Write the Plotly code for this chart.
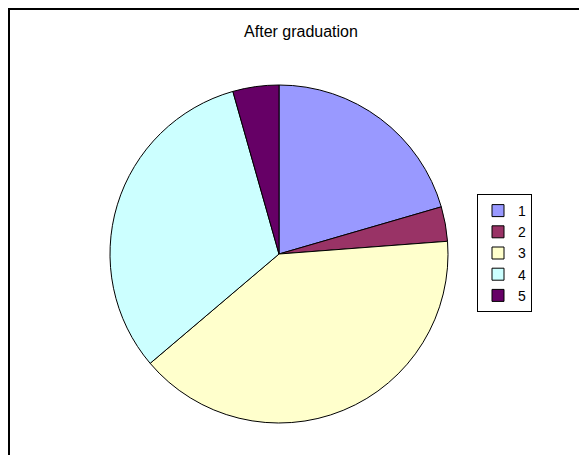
import plotly.graph_objects as go

labels = ["1", "2", "3", "4", "5"]
values = [20.5, 3.3, 40.0, 31.8, 4.4]
colors = ["#9999FF", "#993366", "#FFFFCC", "#CCFFFF", "#660066"]

OFF = 8  # page body margin offset
W, H = 587 + OFF, 455 + OFF  # figure size in px (extends past the window edge)
cx, cy, r = 279 - OFF, 254 - OFF, 169

fig = go.Figure(go.Pie(
    labels=labels, values=values, sort=False, direction="clockwise", rotation=0,
    marker=dict(colors=colors, line=dict(color="black", width=1)),
    textinfo="none", hoverinfo="label+percent",
    domain=dict(x=[(cx - r) / W, (cx + r) / W], y=[(H - cy - r) / H, (H - cy + r) / H]),
))

fig.update_layout(
    width=W, height=H,
    margin=dict(l=0, r=0, t=0, b=0),
    paper_bgcolor="white", plot_bgcolor="white",
    font=dict(family="Liberation Sans, Arial, sans-serif", color="black"),
    title=dict(text="After graduation", x=(301 - OFF) / W, xanchor="center", y=1 - (31 - OFF) / H,
               yanchor="middle", font=dict(size=16, color="black")),
    legend=dict(x=(477 - OFF) / W, y=1 - (194 - OFF) / H, xanchor="left", yanchor="top",
                bordercolor="black", borderwidth=1, bgcolor="white",
                font=dict(size=14), itemwidth=30, tracegroupgap=0),
    shapes=[
        dict(type="line", xref="paper", yref="paper", x0=0, x1=1.0, y0=1 - 1 / H, y1=1 - 1 / H,
             line=dict(color="black", width=2)),
        dict(type="line", xref="paper", yref="paper", x0=1 / W, x1=1 / W, y0=1, y1=0,
             line=dict(color="black", width=2)),
    ],
)

fig.write_html("out.html")
